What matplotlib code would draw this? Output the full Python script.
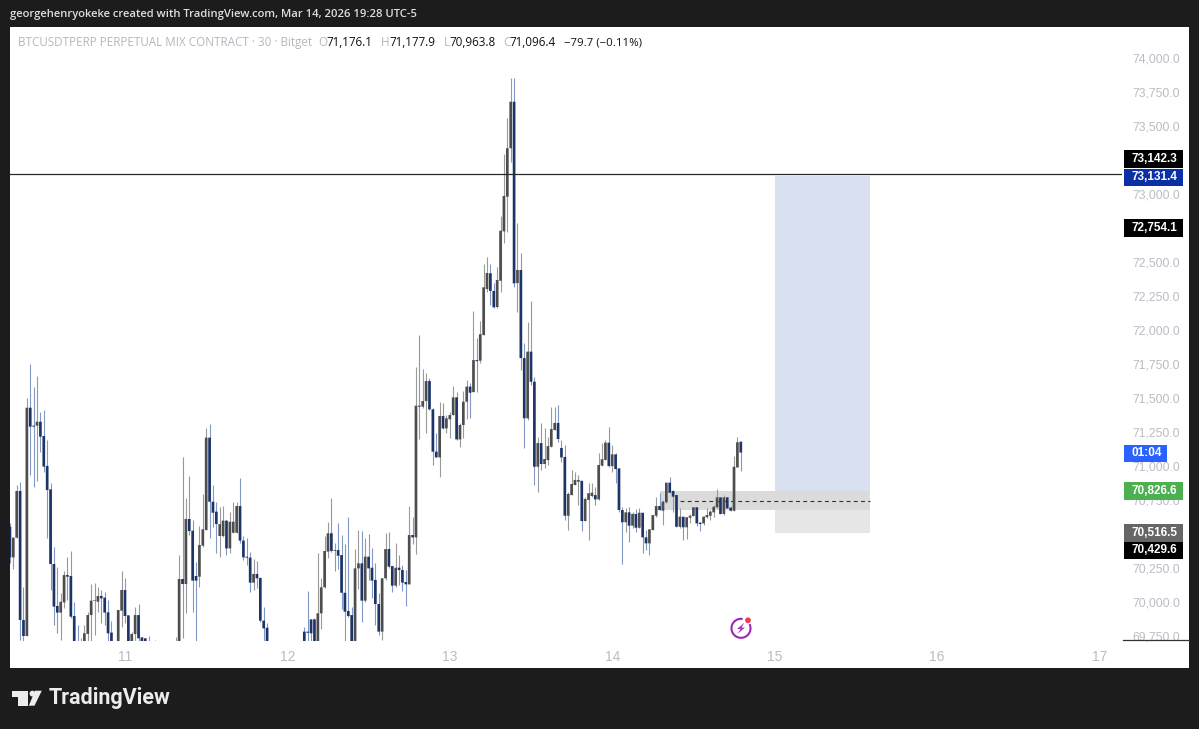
import matplotlib
matplotlib.use('Agg')
import matplotlib.pyplot as plt
from matplotlib.patches import Rectangle, Circle, Polygon, Arc
import numpy as np

nan = np.nan

# candle values, 30 min bars (nan = below the visible pane)
opens = [70552, 70326, 70471, 70814, 69866, 69748, 71426, 71294, 71294, 71323,
         71218, 70998, 70826, 70277, 69969, 69920, 69995, 70196, 70189, 69895,
         69690, 69690, 69650, 69763, 69902, 70008, 70000, 70042, 70030, 69922,
         69773, nan, 69650, 69934, 70086, 69900, 69650, 69763, 69902, 69738,
         69731, 69700, nan, 69690, nan, nan, nan, nan, nan, 69690,
         69650, 70167, 70130, 70608, 70522, 70189, 70184, 70412, 70527, 71206,
         70735, 70662, 70483, 70483, 70596, 70392, 70507, 70507, 70703, 70449,
         70331, 70324, 70140, 70204, 70174, 69861, 69809, nan, nan, nan,
         nan, nan, nan, nan, nan, nan, nan, 69780, 69780, 69870,
         69870, 69650, 69915, 70106, 70368, 70503, 70380, 70380, 70343, 70066,
         69932, 69902, 69650, 70245, 70282, 70008, 70331, 70250, 70160, 69983,
         69780, 70172, 70387, 70262, 70118, 70250, 70233, 70145, 70128, 70490,
         70473, 71441, 71434, 71475, 71622, 71414, 71103, 71061, 71365, 71274,
         71341, 71372, 71502, 71193, 71299, 71470, 71581, 71541, 71776, 71772,
         71960, 72298, 72414, 72284, 72166, 72359, 72722, 72977, 73333, 73675,
         72342, 72438, 71791, 71348, 71838, 71617, 70992, 71166, 71012, 71041,
         71139, 71262, 71314, 71130, 71064, 70632, 70784, 70858, 70882, 70889,
         70593, 70748, 70777, 70784, 70752, 71000, 71042, 71169, 70997, 71083,
         70980, 70674, 70584, 70657, 70559, 70645, 70544, 70654, 70473, 70429,
         70527, 70632, 70703, 70669, 70731, 70875, 70814, 70784, 70551, 70625,
         70547, 70617, 70630, 70694, 70581, 70576, 70621, 70632, 70657, 70694,
         70767, 70645, 70767, 70691, 70669, 70987, 71176.1]
closes = [70326, 70471, 70814, 69866, 69748, 71426, 71287, 71287, 71323, 71213,
          70993, 70821, 70277, 69964, 69920, 70000, 70196, 70184, 69890, 69650,
          69650, 69650, 69768, 69902, 70008, 70013, 70042, 70025, 69920, 69768,
          69650, nan, 69939, 70086, 69895, 69650, 69763, 69902, 69731, 69650,
          69650, 69650, nan, 69650, nan, nan, nan, nan, nan, 69650,
          70167, 70130, 70608, 70520, 70155, 70155, 70417, 70532, 71206, 70735,
          70654, 70571, 70571, 70596, 70392, 70588, 70588, 70703, 70449, 70326,
          70324, 70140, 70204, 70172, 69861, 69804, 69650, nan, nan, nan,
          nan, nan, nan, nan, nan, nan, nan, 69650, 69772, 69768,
          69650, 69915, 70106, 70373, 70503, 70373, 70375, 70338, 70066, 69927,
          69895, 69650, 70245, 70282, 70008, 70331, 70245, 70155, 69983, 69780,
          70172, 70387, 70258, 70118, 70250, 70233, 70140, 70128, 70490, 70473,
          71441, 71434, 71475, 71622, 71414, 71103, 71061, 71365, 71274, 71348,
          71372, 71502, 71193, 71299, 71470, 71581, 71536, 71776, 71768, 71966,
          72311, 72416, 72284, 72164, 72365, 72727, 72982, 73333, 73675, 72340,
          72438, 71791, 71348, 71838, 71617, 70992, 71166, 71012, 71049, 71144,
          71269, 71314, 71196, 71061, 70632, 70792, 70865, 70895, 70895, 70593,
          70755, 70797, 70801, 70752, 71005, 71047, 71169, 70997, 71083, 70975,
          70674, 70584, 70657, 70559, 70645, 70544, 70654, 70473, 70429, 70532,
          70637, 70703, 70674, 70735, 70875, 70801, 70772, 70551, 70625, 70547,
          70621, 70632, 70694, 70576, 70571, 70625, 70637, 70662, 70698, 70767,
          70645, 70767, 70686, 70669, 70992, 71172, 71096.4]
highs = [70581, 70471, 70858, 70882, 70111, 71495, 71747, 71576, 71659, 71397,
         71409, 71189, 70875, 70405, 70253, 70062, 70228, 70331, 70375, 70000,
         69829, 69731, 69829, 69927, 70130, 70140, 70106, 70086, 70074, 70013,
         69861, nan, 69939, 70228, 70172, 69900, 69780, 69964, 69983, 69738,
         69731, 69748, nan, 69719, nan, nan, nan, nan, nan, 69738,
         70343, 71061, 70760, 70924, 70601, 70294, 70557, 70789, 71274, 71306,
         70858, 70735, 70698, 70706, 70601, 70657, 70735, 70735, 70907, 70483,
         70471, 70368, 70312, 70302, 70184, 69964, 69841, nan, nan, nan,
         nan, nan, nan, nan, nan, nan, nan, 69812, 70081, 69875,
         69878, 70360, 70172, 70483, 70588, 70760, 70434, 70576, 70490, 70424,
         70620, 69959, 70385, 70527, 70522, 70466, 70495, 70392, 70282, 70062,
         70172, 70507, 70515, 70262, 70434, 70343, 70270, 70233, 70703, 70625,
         71723, 71960, 71708, 71679, 71647, 71421, 71238, 71470, 71458, 71372,
         71397, 71585, 71544, 71311, 71551, 71630, 71605, 72137, 71938, 72065,
         72482, 72536, 72482, 72343, 72462, 72835, 73288, 73555, 73847, 73847,
         72786, 72563, 71902, 72058, 72210, 71652, 71211, 71314, 71277, 71211,
         71433, 71433, 71446, 71189, 71152, 70806, 70968, 70956, 70931, 70889,
         70772, 70875, 70872, 70845, 71095, 71166, 71189, 71282, 71152, 71091,
         70983, 70698, 70689, 70698, 70662, 70681, 70689, 70654, 70527, 70532,
         70637, 70770, 70801, 70748, 70875, 70919, 70821, 70784, 70689, 70625,
         70625, 70645, 70698, 70694, 70588, 70632, 70686, 70674, 70711, 70826,
         70767, 70784, 70772, 70703, 71071, 71208, 71177.9]
lows = [70282, 70238, 70471, 69719, 69650, 69748, 70931, 70846, 70890, 71103,
        70956, 70466, 70086, 69829, 69768, 69719, 69951, 70013, 69878, 69650,
        69650, 69650, 69650, 69700, 69714, 69755, 69927, 69841, 69829, 69700,
        69650, nan, 69650, 69817, 69841, 69650, 69650, 69700, 69700, 69650,
        69650, 69650, nan, 69650, nan, nan, nan, nan, nan, 69650,
        69650, 69731, 69920, 70490, 69927, 69714, 70111, 70405, 70527, 70466,
        70552, 70360, 70331, 70478, 70343, 70356, 70502, 70502, 70429, 70307,
        70270, 70074, 70086, 70098, 69853, 69700, 69650, nan, nan, nan,
        nan, nan, nan, nan, nan, nan, nan, 69650, 69650, 69700,
        69650, 69650, 69797, 70098, 70319, 70368, 70228, 70238, 69944, 69700,
        69890, 69650, 69650, 70091, 69853, 70000, 70160, 70025, 69829, 69755,
        69719, 70160, 70245, 70074, 70111, 70123, 70081, 69971, 70128, 70422,
        70351, 71193, 71421, 71238, 71409, 71005, 71061, 70919, 71267, 71238,
        71201, 71372, 71188, 71140, 71201, 71340, 71348, 71541, 71541, 71755,
        71960, 72279, 72181, 72159, 72159, 72276, 72637, 72717, 73234, 72315,
        72132, 71703, 71130, 71336, 71593, 70858, 70809, 70968, 70983, 71005,
        71137, 71262, 71176, 71027, 70601, 70527, 70784, 70858, 70711, 70522,
        70593, 70453, 70772, 70711, 70748, 71000, 71042, 70992, 70955, 70875,
        70662, 70277, 70514, 70441, 70542, 70514, 70540, 70356, 70380, 70343,
        70527, 70625, 70674, 70564, 70725, 70801, 70662, 70551, 70542, 70454,
        70461, 70581, 70630, 70556, 70522, 70564, 70617, 70601, 70622, 70686,
        70645, 70637, 70686, 70669, 70669, 70987, 70963.8]

# 70,500 / 72,750 / 73,250 sit behind the price tags in the picture
price_ticks = [69750, 70000, 70250, 70750, 71000, 71250, 71500, 71750, 72000,
               72250, 72500, 73000, 73500, 73750, 74000]
day_ticks = [11, 12, 13, 14, 15, 16, 17]

level_line = 73142.3
target_price = 73131.4
band_high = 70813
band_low = 70672
mid_price = 70743
stop_price = 70507
band_start = 14.293
box_start = 15.0
box_end = 15.585

W, H = 1199, 729
up_body, down_body = '#4d4d4d', '#1d3468'
up_wick, down_wick = '#9a9a9a', '#8299c6'
grey_text = '#b9bcc4'

opens, closes, highs, lows = map(np.array, (opens, closes, highs, lows))
times = 11 + (np.arange(len(opens)) - 34) / 48
is_up = closes >= opens

fig = plt.figure(figsize=(W / 100, H / 100), dpi=100, facecolor='#1c1c1c')


def pixel_axes(zorder):
    a = fig.add_axes([0, 0, 1, 1], zorder=zorder)
    a.set_xlim(0, W)
    a.set_ylim(H, 0)
    a.axis('off')
    return a


back = pixel_axes(0)
back.add_patch(Rectangle((10, 27), 1179, 641, color='white', lw=0))

# chart pane, x in days of March, y in price
ax = fig.add_axes([10 / W, 1 - 640.7 / H, 1112 / W, 613.2 / H], zorder=1)
ax.patch.set_alpha(0)
ax.set_xlim(10.292, 17.139)
ax.set_ylim(69713.5, 74220.5)
for s in ax.spines.values():
    s.set_visible(False)
ax.yaxis.tick_right()
ax.set_yticks(price_ticks)
ax.set_yticklabels([f'{p:,.1f}' for p in price_ticks], fontsize=8.8, color=grey_text,
                   family='Liberation Sans')
ax.tick_params(axis='y', length=0, pad=7.2)
ax.set_xticks(day_ticks)
ax.set_xticklabels([str(d) for d in day_ticks], fontsize=10, color=grey_text,
                   family='Liberation Sans')
ax.tick_params(axis='x', length=0, pad=6.5)

# position tool boxes
ax.add_patch(Rectangle((box_start, band_high), box_end - box_start, target_price - band_high,
                       color='#d9e0ef', lw=0, zorder=1))
ax.add_patch(Rectangle((box_start, stop_price), box_end - box_start, band_low - stop_price,
                       color='#e6e6e6', lw=0, zorder=1))
ax.add_patch(Rectangle((band_start, band_low), box_end - band_start, band_high - band_low,
                       color='#9a9a9a', alpha=0.35, lw=0, zorder=1.5))
ax.plot([14.42, box_end], [mid_price, mid_price], color='#333333', lw=0.8, dashes=(3.5, 3), zorder=2)

ax.vlines(times, lows, highs, colors=np.where(is_up, up_wick, down_wick), lw=0.8, zorder=3)
ax.bar(times, closes - opens, bottom=opens, width=0.0165,
       color=np.where(is_up, up_body, down_body), lw=0, zorder=4, snap=False)

ax.axhline(level_line, color='#2a2a2a', lw=0.9, zorder=5)

front = pixel_axes(2)
front.plot([1123, 1189], [640, 640], color='#333333', lw=0.9)

# price tags on the right hand scale
tags = [('73,142.3', 150, 167.5, '#000000', 1183), ('73,131.4', 168.5, 186, '#0b2fa5', 1183),
        ('72,754.1', 218.5, 236.5, '#000000', 1183), ('01:04', 444.5, 462, '#2962ff', 1167),
        ('70,826.6', 482, 499.5, '#4caf50', 1183), ('70,516.5', 524, 541.5, '#666666', 1183),
        ('70,429.6', 541.5, 558.5, '#000000', 1183)]
for label, y0, y1, col, x1 in tags:
    front.add_patch(Rectangle((1123.5, y0), x1 - 1123.5, y1 - y0, color=col, lw=0))
    front.text(1132, (y0 + y1) / 2, label, color='white', fontsize=8.5, va='center',
               family='Liberation Sans', fontweight='bold')

# header texts
front.text(10, 14.5, 'georgehenryokeke created with TradingView.com, Mar 14, 2026 19:28 UTC-5',
           color='#dedede', fontsize=8.15, va='center', family='Open Sans', fontweight='semibold')
front.text(18, 42.5, 'BTCUSDTPERP PERPETUAL MIX CONTRACT · 30 · Bitget', color='#b4b7be',
           fontsize=8.35, va='center', family='Open Sans')
for letter, lx, value, vx in [('O', 318.5, '71,176.1', 326), ('H', 381, '71,177.9', 389),
                              ('L', 444, '70,963.8', 449), ('C', 503, '71,096.4', 509)]:
    front.text(lx, 42.5, letter, color='#b4b7be', fontsize=8.35, va='center', family='Open Sans')
    front.text(vx, 42.5, value, color='#111111', fontsize=8.4, va='center', family='Open Sans')
front.text(564, 42.5, '−79.7 (−0.11%)', color='#111111', fontsize=8.2, va='center', family='Open Sans')

# lightning badge
front.add_patch(Arc((741, 628.3), 19, 19, theta1=-30, theta2=280, color='#9c27b0', lw=1.5))
front.add_patch(Polygon([(744.5, 622.5), (737, 629), (740.5, 629), (737.5, 634), (745, 627.5),
                         (741.5, 627.5)], color='#a23bb8', lw=0))
front.add_patch(Circle((748, 620.3), 4.2, color='white', lw=0))
front.add_patch(Circle((748, 620.3), 2.9, color='#ef3b4e', lw=0))

# TradingView logo
logo = '#ececec'
front.add_patch(Polygon([(12, 690.7), (28.3, 690.7), (28.3, 705.7), (18.3, 705.7), (18.3, 696.7),
                         (12, 696.7)], color=logo, lw=0))
front.add_patch(Circle((32.4, 693.6), 2.9, color=logo, lw=0))
front.add_patch(Polygon([(35, 690.7), (41.8, 690.7), (34.5, 705.7), (28.8, 705.7)], color=logo, lw=0))
front.text(49, 698, 'TradingView', color=logo, fontsize=15.5, va='center', family='Roboto',
           fontweight='bold')

fig.savefig('out.png', dpi=100, facecolor=fig.get_facecolor())
